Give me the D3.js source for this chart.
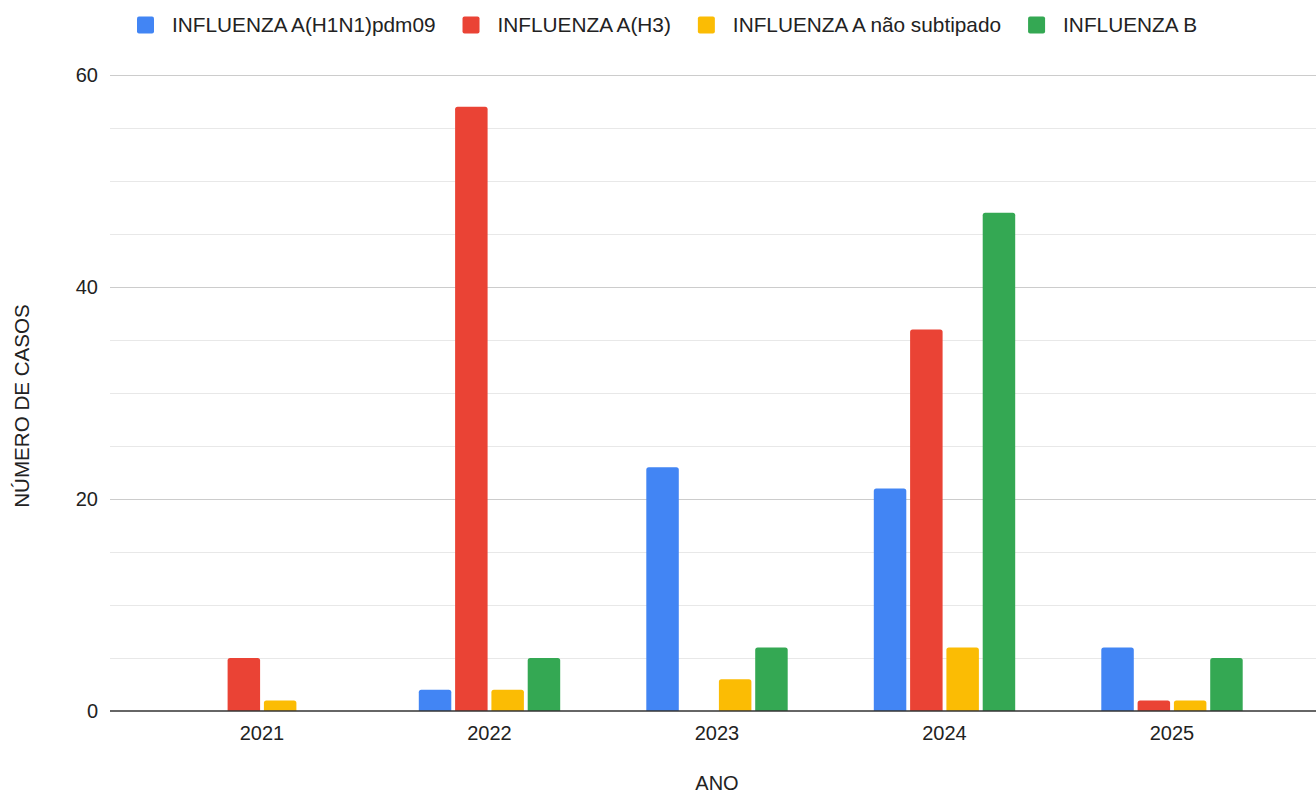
<!DOCTYPE html>
<html>
<head>
<meta charset="utf-8">
<script src="https://cdn.jsdelivr.net/npm/d3@7"></script>
<style>
  html, body { margin: 0; padding: 0; background: #fff; }
  svg { display: block; font-family: Arial, "Liberation Sans", sans-serif; }
</style>
</head>
<body>
<svg id="chart" width="1316" height="793"></svg>
<script>
// Influenza cases per year, by subtype
const years = ["2021", "2022", "2023", "2024", "2025"];
const seriesNames = ["INFLUENZA A(H1N1)pdm09", "INFLUENZA A(H3)", "INFLUENZA A não subtipado", "INFLUENZA B"];
const h1n1 = [0, 2, 23, 21, 6];
const h3 = [5, 57, 0, 36, 1];
const naoSubtipado = [1, 2, 3, 6, 1];
const influenzaB = [0, 5, 6, 47, 5];
const seriesColors = ["#4285F4", "#EA4335", "#FBBC04", "#34A853"];
const yTicks = [0, 20, 40, 60];
const yGrid = d3.range(0, 61, 5);

const seriesValues = [h1n1, h3, naoSubtipado, influenzaB];
const rows = years.map((yr, i) => ({
  year: yr,
  values: seriesNames.map((s, k) => ({ series: s, value: seriesValues[k][i], color: seriesColors[k] }))
}));

const svg = d3.select("#chart");
const plotLeft = 110, plotRight = 1316, plotTop = 75, plotBottom = 711;
const fontFamily = "Arial, 'Liberation Sans', sans-serif";

const y = d3.scaleLinear().domain([0, 60]).range([plotBottom, plotTop]);
const x = d3.scaleBand().domain(years).range([148.25, 1285.75]).padding(0);
const groupHalf = 70.7;
const xInner = d3.scaleBand().domain(seriesNames).range([-groupHalf, groupHalf]).paddingInner(0.105).paddingOuter(0);

// gridlines
svg.append("g").selectAll("line").data(yGrid.filter(v => v !== 0)).join("line")
  .attr("x1", plotLeft).attr("x2", plotRight)
  .attr("y1", d => y(d)).attr("y2", d => y(d))
  .attr("stroke", d => yTicks.includes(d) ? "#cccccc" : "#e8e8e8")
  .attr("stroke-width", 1)
  .attr("shape-rendering", "crispEdges");

// y tick labels
const yAxis = d3.axisLeft(y).tickValues(yTicks).tickSize(0).tickPadding(12);
const yg = svg.append("g").attr("transform", `translate(${plotLeft},0)`).call(yAxis);
yg.select(".domain").remove();
yg.selectAll("text").attr("font-size", 20).attr("fill", "#222").attr("font-family", fontFamily);

// rounded-top bar path
function barPath(x0, w, yTop, yBase, r) {
  const h = yBase - yTop;
  if (h <= 0) return "";
  const rr = Math.min(r, h, w / 2);
  return `M${x0},${yBase}V${yTop + rr}Q${x0},${yTop} ${x0 + rr},${yTop}H${x0 + w - rr}Q${x0 + w},${yTop} ${x0 + w},${yTop + rr}V${yBase}Z`;
}

const groups = svg.append("g").selectAll("g").data(rows).join("g")
  .attr("transform", d => `translate(${x(d.year) + x.bandwidth() / 2},0)`);

groups.selectAll("path").data(d => d.values).join("path")
  .attr("d", d => barPath(xInner(d.series), xInner.bandwidth(), y(d.value), y(0), 2.5))
  .attr("fill", d => d.color);

// baseline
svg.append("line")
  .attr("x1", plotLeft).attr("x2", plotRight)
  .attr("y1", y(0)).attr("y2", y(0))
  .attr("stroke", "#333").attr("stroke-width", 1.6);

// x axis labels
const xAxis = d3.axisBottom(x).tickSize(0).tickPadding(15);
const xg = svg.append("g").attr("transform", `translate(0,${plotBottom})`).call(xAxis);
xg.select(".domain").remove();
xg.selectAll("text").attr("font-size", 20).attr("fill", "#222").attr("font-family", fontFamily);

// axis titles
svg.append("text")
  .attr("x", 717).attr("y", 790)
  .attr("text-anchor", "middle").attr("font-size", 20).attr("fill", "#222")
  .text("ANO");

svg.append("text")
  .attr("transform", "translate(29,406) rotate(-90)")
  .attr("text-anchor", "middle").attr("font-size", 20.6).attr("fill", "#222")
  .text("NÚMERO DE CASOS");

// legend
const legend = svg.append("g").attr("transform", "translate(137,25)");
let lx = 0;
seriesNames.forEach((name, k) => {
  const item = legend.append("g").attr("transform", `translate(${lx},0)`);
  item.append("rect").attr("x", 0).attr("y", -8.5).attr("width", 17).attr("height", 17)
    .attr("rx", 2).attr("fill", seriesColors[k]);
  const t = item.append("text").attr("x", 35).attr("y", 0).attr("dy", "0.35em")
    .attr("font-size", 20.8).attr("fill", "#222").text(name);
  lx += 35 + t.node().getComputedTextLength() + 27;
});
</script>
</body>
</html>
